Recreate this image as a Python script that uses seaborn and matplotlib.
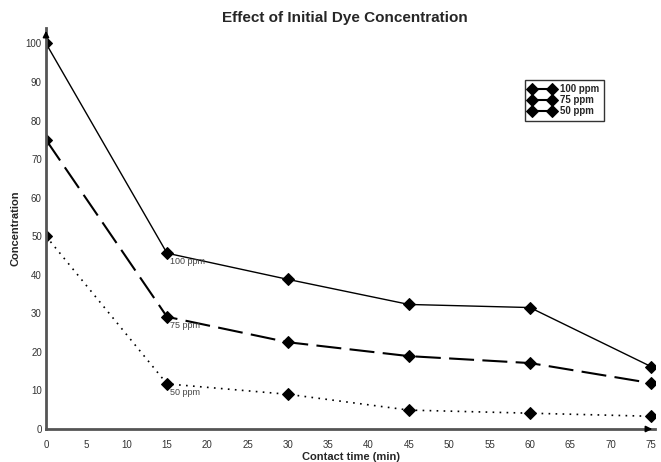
import matplotlib
matplotlib.use("Agg")
import matplotlib.pyplot as plt
import seaborn as sns
import pandas as pd

time_min = [0, 15, 30, 45, 60, 75]
conc_100 = [100, 45.6, 38.8, 32.3, 31.5, 16.2]
conc_75 = [75, 29.1, 22.5, 18.9, 17.1, 11.9]
conc_50 = [50, 11.7, 9.0, 4.9, 4.1, 3.3]
series_names = ["100 ppm", "75 ppm", "50 ppm"]

sns.set_style("white")
plt.rcParams['font.family'] = ['Liberation Sans', 'DejaVu Sans']

fig = plt.figure(figsize=(6.61, 4.62), dpi=100)
ax = fig.add_axes([46/661, 1-429/462, (655-46)/661, (429-28)/462])

styles = {
    "100 ppm": dict(linestyle="-", linewidth=1.0),
    "75 ppm": dict(linestyle=(0, (12, 4)), linewidth=1.5),
    "50 ppm": dict(linestyle=(0, (1, 3.2)), linewidth=1.2),
}
for name, vals in zip(series_names, [conc_100, conc_75, conc_50]):
    df = pd.DataFrame({"t": time_min, "c": vals})
    sns.lineplot(data=df, x="t", y="c", ax=ax, color="black", marker="D",
                 markersize=6, markeredgecolor="black", label=name,
                 **styles[name])
    ax.text(time_min[1] + 0.4, vals[1] - 1.0, name, fontsize=6.5,
            color="#444444", va="top", ha="left")

ax.set_xlim(0, 75.5)
ax.set_ylim(0, 104)
ax.set_xticks(range(0, 80, 5))
ax.set_yticks(range(0, 110, 10))
for s in ["top", "right"]:
    ax.spines[s].set_visible(False)
for s in ["left", "bottom"]:
    ax.spines[s].set_color("#555555")
    ax.spines[s].set_linewidth(2)
ax.tick_params(direction="in", length=5, width=1.5, color="#333333",
               labelsize=7, labelcolor="#333333", pad=3)
ax.tick_params(axis="x", pad=8)
ax.set_xlabel("Contact time (min)", fontsize=8, fontweight="bold", labelpad=1)
ax.set_ylabel("Concentration", fontsize=8, fontweight="bold", labelpad=4)

# arrows at axis ends
ax.annotate("", xy=(1.0, 0), xycoords="axes fraction", xytext=(0.985, 0),
            arrowprops=dict(arrowstyle="-|>", color="black", lw=1.2,
                            mutation_scale=9), annotation_clip=False)
ax.annotate("", xy=(0, 1.0), xycoords="axes fraction", xytext=(0, 0.975),
            arrowprops=dict(arrowstyle="-|>", color="black", lw=1.2,
                            mutation_scale=9), annotation_clip=False)

fig.text(345/661, 1-18/462, "Effect of Initial Dye Concentration",
         ha="center", va="center", fontsize=11, fontweight="bold")

leg = ax.legend(loc="upper left", bbox_to_anchor=((520-46)/609, (429-75)/401),
                frameon=True, fancybox=False, edgecolor="black",
                numpoints=2, handlelength=2.6, borderpad=0.45, labelspacing=0.1,
                handletextpad=0.6, prop={"weight": "bold", "size": 7})
leg.get_frame().set_linewidth(1.0)
for h in leg.legend_handles:
    h.set_linestyle("-")
    h.set_linewidth(1.5)
    h.set_markersize(6)

fig.savefig("out.png", dpi=100)
